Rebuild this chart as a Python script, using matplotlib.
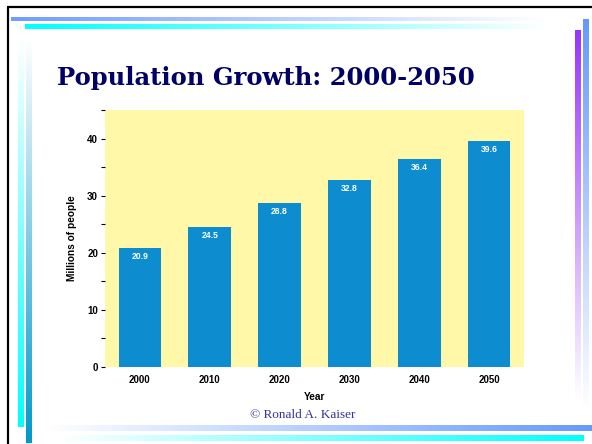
import numpy as np
import matplotlib.pyplot as plt
from matplotlib.colors import LinearSegmentedColormap
from matplotlib.ticker import MultipleLocator

years = ["2000", "2010", "2020", "2030", "2040", "2050"]
population = [20.9, 24.5, 28.8, 32.8, 36.4, 39.6]

W, H = 592, 444
fig = plt.figure(figsize=(W / 100, H / 100), dpi=100)
fig.patch.set_facecolor("white")

# slide decoration layer (pixel coordinates)
deco = fig.add_axes([0, 0, 1, 1], zorder=0)
deco.set_xlim(0, W)
deco.set_ylim(H, 0)
deco.axis("off")


def grad_bar(x0, x1, y0, y1, c_start, c_end, horizontal=True):
    cmap = LinearSegmentedColormap.from_list("g", [c_start, c_end])
    g = np.linspace(0, 1, 256)
    arr = g[None, :] if horizontal else g[:, None]
    deco.imshow(arr, cmap=cmap, extent=(x0, x1, y1, y0), aspect="auto",
                interpolation="bilinear", zorder=1)


# top bars
grad_bar(11, 545, 18, 21.5, "#6f9cff", "#ffffff")
grad_bar(25, 552, 24, 29, "#00ffff", "#ffffff")
# right bars
grad_bar(575, 581, 31, 400, "#9933ff", "#ffffff", horizontal=False)
grad_bar(583, 589, 20, 410, "#6699ff", "#ffffff", horizontal=False)
# left bars
grad_bar(18, 23.5, 40, 427, "#ffffff", "#00ffff", horizontal=False)
grad_bar(26, 32, 40, 443, "#ffffff", "#0099cc", horizontal=False)
# bottom bars
grad_bar(45, 592, 425, 431, "#ffffff", "#6699ff")
grad_bar(60, 584, 435, 441, "#ffffff", "#00ffff")
# black border
deco.plot([7, W], [7, 7], color="black", lw=1.6, zorder=2, solid_capstyle="butt")
deco.plot([8, 8], [7, H], color="black", lw=1.6, zorder=2, solid_capstyle="butt")

fig.text(57 / W, 1 - 78 / H, "Population Growth: 2000-2050", fontsize=17.5,
         fontweight="bold", family="DejaVu Serif", color="#000066",
         ha="left", va="center")
fig.text(303 / W, 1 - 415 / H, "\u00a9 Ronald A. Kaiser", fontsize=9.5,
         family="Liberation Serif", color="#333399", ha="center", va="center")

ax = fig.add_axes([105 / W, 1 - 367 / H, 419 / W, 257 / H], zorder=1)
ax.set_facecolor("#fff8a8")
x = np.arange(len(years))
bars = ax.bar(x, population, width=0.61, color="#0e8cd0")
for xi, v in zip(x, population):
    ax.text(xi, v - 0.7, f"{v:.1f}", color="white", fontsize=6.2,
            fontweight="bold", family="Liberation Sans", ha="center", va="top")

ax.set_xlim(-0.5, len(years) - 0.5)
ax.set_ylim(0, 45)
ax.set_xticks(x)
ax.set_xticklabels(years)
ax.yaxis.set_major_locator(MultipleLocator(10))
ax.yaxis.set_minor_locator(MultipleLocator(5))
for s in ax.spines.values():
    s.set_visible(False)
ax.tick_params(axis="x", length=0, pad=6)
ax.tick_params(axis="y", which="both", length=3, width=0.8, pad=2)
for lab in ax.get_xticklabels() + ax.get_yticklabels():
    lab.set_fontsize(7)
    lab.set_fontweight("bold")
    lab.set_family("Liberation Sans")
ax.set_xlabel("Year", fontsize=7.3, fontweight="bold", family="Liberation Sans",
              labelpad=5)
ax.set_ylabel("Millions of people", fontsize=7.3, fontweight="bold",
              family="Liberation Sans", labelpad=7)

fig.savefig("out.png", dpi=100)
